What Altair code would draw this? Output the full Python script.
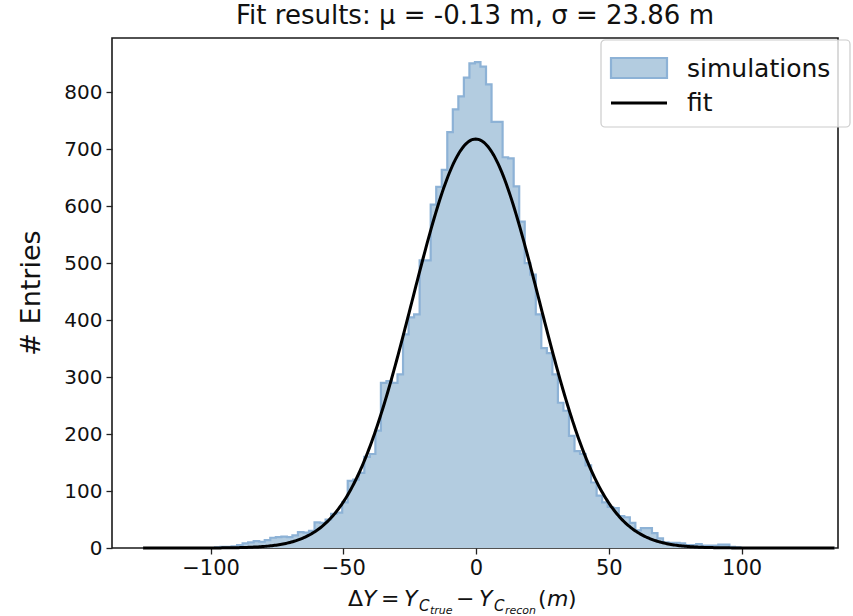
import altair as alt
import numpy as np
import pandas as pd

# ---------------- data ----------------
bin_start = -125.4
bin_width = 2.083
counts = [0, 0, 0, 0, 0, 0, 0, 0, 0, 0, 0, 0, 0,
          1, 2, 2, 3, 5, 8, 10, 12, 11, 14, 18, 19, 20, 19, 22, 28, 27, 30,
          45, 44, 50, 60, 62, 80, 118, 120, 132, 160, 165, 206, 290, 293, 290,
          305, 375, 405, 410, 505, 505, 603, 634, 664, 730, 770, 793, 826, 851,
          853, 845, 814, 748, 748, 686, 684, 635, 573, 500, 480, 410, 351, 342,
          305, 255, 241, 197, 170, 165, 145, 115, 92, 80, 72, 70, 56, 54, 44,
          31, 35, 35, 26, 17, 10, 9, 9, 8, 5, 5, 7, 4, 4, 4, 6, 6, 2, 1,
          0, 0, 0, 0, 0, 0, 0, 0, 0, 0, 0, 0, 0, 0, 0, 0, 0]

fit_mu = -0.13
fit_sigma = 23.86
fit_amplitude = 718
fit_range = [-125.4, 135.0]

x_ticks = [-100, -50, 0, 50, 100]
y_ticks = [0, 100, 200, 300, 400, 500, 600, 700, 800]
x_domain = [-137.1, 136.3]
y_domain = [0, 895.4]

title_text = "Fit results: μ = -0.13 m, σ = 23.86 m"
legend_labels = ["simulations", "fit"]

# ---------------- tables ----------------
edges = bin_start + bin_width * np.arange(len(counts) + 1)
hist_df = pd.DataFrame({"x": edges, "y": counts + [counts[-1]]})

fx = np.linspace(fit_range[0], fit_range[1], 500)
fy = fit_amplitude * np.exp(-0.5 * ((fx - fit_mu) / fit_sigma) ** 2)
fit_df = pd.DataFrame({"x": fx, "y": fy})

FILL = "#b3cce0"
EDGE = "#8db2d6"
FONT = "DejaVu Sans"

xs = alt.Scale(domain=x_domain, nice=False, zero=False)
ys = alt.Scale(domain=y_domain, nice=False, zero=False)

x_axis = alt.Axis(values=x_ticks, title=None, grid=False, domain=False,
                  tickSize=6, tickWidth=1.3, tickColor="#222",
                  labelFontSize=21, labelFont=FONT, labelColor="#111",
                  labelPadding=3)
y_axis = alt.Axis(values=y_ticks, title=None, grid=False, domain=False,
                  tickSize=6, tickWidth=1.3, tickColor="#222",
                  labelFontSize=20, labelFont=FONT, labelColor="#111",
                  labelPadding=4)

area = alt.Chart(hist_df).mark_area(interpolate="step-after", color=FILL, opacity=1).encode(
    x=alt.X("x:Q", scale=xs, axis=x_axis),
    y=alt.Y("y:Q", scale=ys, axis=y_axis),
)
outline = alt.Chart(hist_df).mark_line(interpolate="step-after", color=EDGE, strokeWidth=2.2).encode(
    x=alt.X("x:Q", scale=xs),
    y=alt.Y("y:Q", scale=ys),
)
fit_line = alt.Chart(fit_df).mark_line(color="black", strokeWidth=3).encode(
    x=alt.X("x:Q", scale=xs),
    y=alt.Y("y:Q", scale=ys),
)

one = pd.DataFrame({"k": [0]})
OX, OY = 112, 38  # plot origin on the page


def txt(s, x, y, size, style="normal", align="left", angle=0, baseline="alphabetic"):
    kw = dict(text=s, font=FONT, fontSize=size, fontStyle=style, align=align,
              baseline=baseline, color="#111")
    if angle:
        kw["angle"] = angle
    return alt.Chart(one).mark_text(**kw).encode(x=alt.value(x - OX), y=alt.value(y - OY))


layers = [area, outline, fit_line]

# y-axis title
layers.append(txt("# Entries", 32, 293, 27, align="center", angle=270, baseline="middle"))

# x-axis title pieces (mathtext-like)
xt = [
    ("Δ", 348, 606, 22, "normal"),
    ("Y", 363, 606, 22, "italic"),
    ("=", 381, 606, 22, "normal"),
    ("Y", 404, 606, 22, "italic"),
    ("C", 419, 611, 15, "italic"),
    ("true", 430, 614, 11, "italic"),
    ("−", 456, 606, 22, "normal"),
    ("Y", 479, 606, 22, "italic"),
    ("C", 494, 611, 15, "italic"),
    ("recon", 505, 614, 11, "italic"),
    ("(", 538, 606, 22, "normal"),
    ("m", 547, 606, 22, "italic"),
    (")", 568, 606, 22, "normal"),
]
for s, x, y, size, style in xt:
    layers.append(txt(s, x, y, size, style))

# legend
legend_box = alt.Chart(one).mark_rect(fill="white", fillOpacity=0.8, stroke="#cccccc",
                                      strokeWidth=1.2, cornerRadius=4).encode(
    x=alt.value(601 - OX), x2=alt.value(850 - OX), y=alt.value(40 - OY), y2=alt.value(127 - OY))
legend_patch = alt.Chart(one).mark_rect(fill=FILL, stroke=EDGE, strokeWidth=2.2).encode(
    x=alt.value(611 - OX), x2=alt.value(667 - OX), y=alt.value(58 - OY), y2=alt.value(78 - OY))
legend_line = alt.Chart(one).mark_rule(color="black", strokeWidth=3).encode(
    x=alt.value(611 - OX), x2=alt.value(667 - OX), y=alt.value(103 - OY))
layers += [legend_box, legend_patch, legend_line,
           txt(legend_labels[0], 687, 69, 25, baseline="middle"),
           txt(legend_labels[1], 687, 103, 25, baseline="middle")]

chart = alt.layer(*layers).properties(
    width=726, height=510,
    title=alt.TitleParams(title_text, font=FONT, fontSize=26, fontWeight="normal",
                          color="#111", offset=9, anchor="middle"),
    autosize=alt.AutoSizeParams(type="none"),
    padding={"left": OX, "top": OY, "right": 15, "bottom": 68},
).configure_view(stroke="#1a1a1a", strokeWidth=1.6)

chart.save("out.html", embed_options={"renderer": "svg", "actions": False})
